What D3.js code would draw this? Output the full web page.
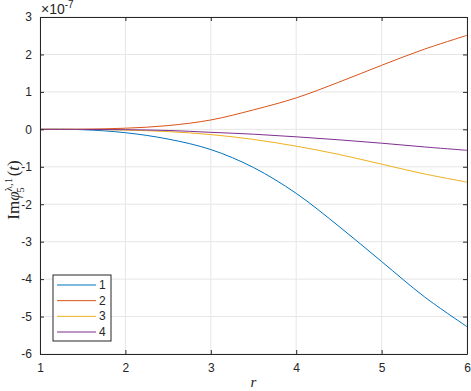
<!DOCTYPE html>
<html>
<head>
<meta charset="utf-8">
<script src="https://cdn.jsdelivr.net/npm/d3@7"></script>
<style>
  body { margin: 0; background: #fff; }
  text { font-family: "Liberation Sans", Arial, sans-serif; }
</style>
</head>
<body>
<svg id="chart" width="471" height="391"></svg>
<script>
// values in units of 1e-7
const rValues = [1, 1.5, 2, 2.5, 3, 3.5, 4, 4.5, 5, 5.5, 6];
const series1 = [0, -0.01, -0.09, -0.26, -0.54, -1.02, -1.71, -2.59, -3.53, -4.47, -5.27];
const series2 = [0, 0.005, 0.03, 0.1, 0.25, 0.52, 0.84, 1.26, 1.71, 2.14, 2.51];
const series3 = [0, -0.003, -0.02, -0.06, -0.14, -0.27, -0.45, -0.67, -0.93, -1.19, -1.41];
const series4 = [0, -0.002, -0.01, -0.03, -0.08, -0.13, -0.2, -0.28, -0.37, -0.47, -0.56];
const seriesNames = ['1', '2', '3', '4'];
const xTicks = [1, 2, 3, 4, 5, 6];
const yTicks = [-6, -5, -4, -3, -2, -1, 0, 1, 2, 3];

const colors = ['#0072BD', '#D95319', '#EDB120', '#7E2F8E'];
const allSeries = [series1, series2, series3, series4];

const margin = {left: 40, right: 4, top: 17, bottom: 37};
const width = 471, height = 391;

const svg = d3.select('#chart');

const x = d3.scaleLinear().domain([1, 6]).range([margin.left, width - margin.right]);
const y = d3.scaleLinear().domain([-6, 3]).range([height - margin.bottom, margin.top]);

const axisColor = '#262626';
const gridColor = '#e6e6e6';
const tickFmt = d => String(d); // plain hyphen minus, like MATLAB

// grid
const grid = svg.append('g');
grid.selectAll('line.gx').data(xTicks).enter().append('line')
  .attr('x1', d => x(d)).attr('x2', d => x(d))
  .attr('y1', y(-6)).attr('y2', y(3))
  .attr('stroke', gridColor).attr('stroke-width', 1);
grid.selectAll('line.gy').data(yTicks).enter().append('line')
  .attr('y1', d => y(d)).attr('y2', d => y(d))
  .attr('x1', x(1)).attr('x2', x(6))
  .attr('stroke', gridColor).attr('stroke-width', 1);

// curves
const line = d3.line()
  .x((d, i) => x(rValues[i]))
  .y(d => y(d))
  .curve(d3.curveCatmullRom.alpha(0.5));

allSeries.forEach((s, i) => {
  svg.append('path')
    .datum(s)
    .attr('d', line)
    .attr('fill', 'none')
    .attr('stroke', colors[i])
    .attr('stroke-width', 1);
});

// axes (box with inward ticks)
const tickLen = 4;
const axisBottom = d3.axisBottom(x).tickValues(xTicks).tickFormat(tickFmt).tickSizeInner(-tickLen).tickSizeOuter(0).tickPadding(9);
const axisTop = d3.axisTop(x).tickValues(xTicks).tickSizeInner(-tickLen).tickSizeOuter(0).tickFormat('');
const axisLeft = d3.axisLeft(y).tickValues(yTicks).tickFormat(tickFmt).tickSizeInner(-tickLen).tickSizeOuter(0).tickPadding(8);
const axisRight = d3.axisRight(y).tickValues(yTicks).tickSizeInner(-tickLen).tickSizeOuter(0).tickFormat('');

function styleAxis(g) {
  g.select('.domain').attr('stroke', axisColor);
  g.selectAll('.tick line').attr('stroke', axisColor);
  g.selectAll('.tick text')
    .attr('fill', axisColor)
    .style('font-family', '"Liberation Sans", Arial, sans-serif')
    .style('font-size', '12px');
}

svg.append('g').attr('transform', `translate(0,${y(-6)})`).call(axisBottom).call(styleAxis);
svg.append('g').attr('transform', `translate(0,${y(3)})`).call(axisTop).call(styleAxis);
svg.append('g').attr('transform', `translate(${x(1)},0)`).call(axisLeft).call(styleAxis);
svg.append('g').attr('transform', `translate(${x(6)},0)`).call(axisRight).call(styleAxis);

// exponent label
const expo = svg.append('text')
  .attr('x', x(1) + 1)
  .attr('y', 14)
  .attr('fill', axisColor)
  .style('font-size', '14px');
expo.append('tspan').text('\u00d710');
expo.append('tspan').attr('dy', -6).style('font-size', '10px').text('-7');

// x label
svg.append('text')
  .attr('x', (x(1) + x(6)) / 2)
  .attr('y', 387)
  .attr('text-anchor', 'middle')
  .style('font-family', '"Liberation Serif", "Times New Roman", serif')
  .style('font-style', 'italic')
  .style('font-size', '15px')
  .attr('fill', axisColor)
  .text('r');

// y label
const ylab = svg.append('text')
  .attr('transform', `translate(19,190) rotate(-90)`)
  .attr('text-anchor', 'middle')
  .style('font-family', '"Liberation Serif", "Times New Roman", serif')
  .style('font-size', '17px')
  .attr('fill', axisColor);
ylab.append('tspan').text('Im');
ylab.append('tspan').style('font-style', 'italic').text('\u03c6');
ylab.append('tspan').attr('dy', -7).style('font-size', '11px').text('\u03bb,1');
ylab.append('tspan').attr('dx', -15).attr('dy', 12).style('font-size', '11px').text('5');
ylab.append('tspan').attr('dx', 11).attr('dy', -5).text('(');
ylab.append('tspan').style('font-style', 'italic').text('t');
ylab.append('tspan').text(')');

// legend
const legend = svg.append('g');
const lx = 53, ly = 275, lw = 58, lh = 66;
legend.append('rect')
  .attr('x', lx).attr('y', ly).attr('width', lw).attr('height', lh)
  .attr('fill', '#fff').attr('stroke', axisColor).attr('stroke-width', 1);
const rowY = d3.scalePoint().domain(seriesNames).range([ly + 10, ly + 57]);
seriesNames.forEach((name, i) => {
  legend.append('line')
    .attr('x1', lx + 4).attr('x2', lx + 43)
    .attr('y1', rowY(name)).attr('y2', rowY(name))
    .attr('stroke', colors[i]).attr('stroke-width', 1);
  legend.append('text')
    .attr('x', lx + 46).attr('y', rowY(name) + 4)
    .attr('fill', axisColor)
    .style('font-size', '12px')
    .text(name);
});
</script>
</body>
</html>
